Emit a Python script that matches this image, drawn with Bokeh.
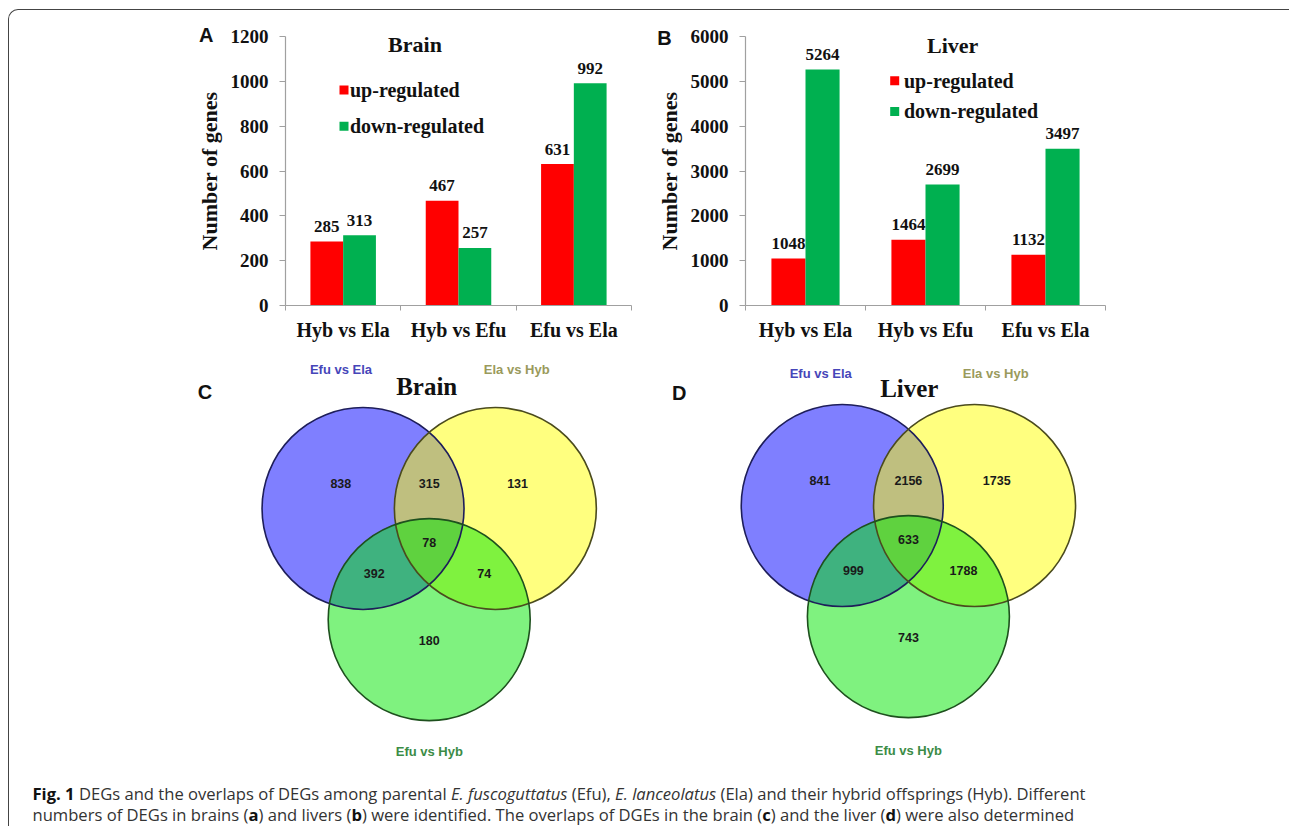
from bokeh.plotting import figure
from bokeh.models import (ColumnDataSource, Range1d, FixedTicker, LabelSet, Label, Spacer, Div)
from bokeh.layouts import row, column
from bokeh.transform import dodge
from bokeh.core.properties import value
from bokeh.embed import file_html
from bokeh.resources import INLINE

# ---------------- data ----------------
categories = ["Hyb vs Ela", "Hyb vs Efu", "Efu vs Ela"]
series_names = ["up-regulated", "down-regulated"]
brain_up = [285, 467, 631]
brain_down = [313, 257, 992]
liver_up = [1048, 1464, 1132]
liver_down = [5264, 2699, 3497]
brain_ticks = [0, 200, 400, 600, 800, 1000, 1200]
liver_ticks = [0, 1000, 2000, 3000, 4000, 5000, 6000]

venn_sets = ["Efu vs Ela", "Ela vs Hyb", "Efu vs Hyb"]
# regions: only1, 1&2, only2, 1&2&3, 1&3, 2&3, only3
brain_venn = [838, 315, 131, 78, 392, 74, 180]
liver_venn = [841, 2156, 1735, 633, 999, 1788, 743]

# ---------------- style / layout ----------------
RED = "#FF0000"
GREEN = "#00B050"
AXIS = "#a0a0a0"
SERIF = "Liberation Serif"
SANS = "Liberation Sans"
ORIGIN_X = 9.5     # page position of the layout content (margin + border)
ORIGIN_Y = 10.5
SPACER_W = 150
TOP_H = 343        # height of the bar-chart row
VENN_H = 417       # height of the venn row
ROW1_TOP = ORIGIN_Y
ROW2_TOP = ORIGIN_Y + TOP_H
FIG_A_LEFT = ORIGIN_X + SPACER_W
FIG_A_W = 490
FIG_B_LEFT = FIG_A_LEFT + FIG_A_W
FIG_B_W = 500


def bar_panel(up, down, ticks, title, fig_left, fig_width, frame, title_pos, legend_pos):
    fl, fr, ft, fb = frame
    mbl = int(round(fl - fig_left))
    mbr = int(round(fig_left + fig_width - fr))
    mbt = int(round(ft - ROW1_TOP))
    mbb = int(round(ROW1_TOP + TOP_H - fb))
    fl, fr = fig_left + mbl, fig_left + fig_width - mbr
    ft, fb = ROW1_TOP + mbt, ROW1_TOP + TOP_H - mbb
    ymax = ticks[-1]
    n = len(categories)
    p = figure(x_range=Range1d(0, n), y_range=Range1d(0, ymax),
               width=fig_width, height=TOP_H,
               min_border_left=mbl, min_border_right=mbr,
               min_border_top=mbt, min_border_bottom=mbb,
               output_backend="svg", toolbar_location=None)
    p.grid.visible = False
    p.outline_line_color = None
    p.background_fill_color = None
    p.border_fill_color = None

    fw, fh = fr - fl, fb - ft

    def dx(px):
        return (px - fl) / fw * n

    def dy(py):
        return (fb - py) / fh * ymax

    centers = [i + 0.5 for i in range(n)]
    src = ColumnDataSource(dict(xc=centers, up=up, down=down,
                                up_t=[str(v) for v in up], down_t=[str(v) for v in down]))
    bw = 0.284
    p.vbar(x=dodge("xc", -bw / 2), top="up", width=bw, source=src,
           fill_color=RED, line_color=None)
    p.vbar(x=dodge("xc", bw / 2), top="down", width=bw, source=src,
           fill_color=GREEN, line_color=None)
    for off, col in ((-bw / 2, "up"), (bw / 2, "down")):
        p.add_layout(LabelSet(x=dodge("xc", off), y=col, text=col + "_t",
                              source=src, y_offset=15, text_align="center",
                              text_baseline="middle", text_font=value(SERIF),
                              text_font_style="bold", text_font_size="17px",
                              text_color="#111111"))

    # y axis
    ya = p.yaxis[0]
    ya.ticker = FixedTicker(ticks=ticks)
    ya.axis_line_color = AXIS
    ya.axis_line_width = 1.2
    ya.major_tick_line_color = AXIS
    ya.major_tick_in = 0
    ya.major_tick_out = 6
    ya.minor_tick_line_color = None
    ya.major_label_standoff = 11
    ya.major_label_text_font = SERIF
    ya.major_label_text_font_style = "bold"
    ya.major_label_text_font_size = "19px"
    ya.major_label_text_color = "#111111"
    ya.axis_label = "Number of genes"
    ya.axis_label_text_font = SERIF
    ya.axis_label_text_font_style = "bold"
    ya.axis_label_text_font_size = "22px"
    ya.axis_label_text_color = "#111111"
    ya.axis_label_standoff = 6

    # x axis: category names at centres, tick marks between categories
    xa = p.xaxis[0]
    xa.ticker = FixedTicker(ticks=centers, minor_ticks=list(range(n + 1)))
    xa.major_label_overrides = {c: name for c, name in zip(centers, categories)}
    xa.axis_line_color = AXIS
    xa.axis_line_width = 1.2
    xa.major_tick_line_color = None
    xa.major_tick_out = 5
    xa.major_tick_in = 0
    xa.minor_tick_line_color = AXIS
    xa.minor_tick_out = 5
    xa.minor_tick_in = 0
    xa.major_label_standoff = 8
    xa.major_label_text_font = SERIF
    xa.major_label_text_font_style = "bold"
    xa.major_label_text_font_size = "20px"
    xa.major_label_text_color = "#111111"

    # legend (square keys + labels)
    lx, ly1, ly2, tx = legend_pos
    p.scatter(x=[dx(lx), dx(lx)], y=[dy(ly1), dy(ly2)], marker="square", size=9,
              fill_color=[RED, GREEN], line_color=None)
    p.text(x=[dx(tx), dx(tx)], y=[dy(ly1), dy(ly2)], text=series_names,
           text_font=value(SERIF), text_font_style="bold", text_font_size="20px",
           text_baseline="middle", text_align="left", text_color="#111111")

    # panel title
    p.add_layout(Label(x=dx(title_pos[0]), y=dy(title_pos[1]), text=title,
                       text_font=SERIF, text_font_style="bold", text_font_size="22px",
                       text_align="center", text_baseline="middle", text_color="#111111"))
    return p


def letter_overlay(letter, fig_left, fig_width, pos):
    # transparent box laid over a bar chart, carrying the panel letter
    left = pos[0] - fig_left - 10
    top = pos[1] - ROW1_TOP - 11
    html = ('<div style="position:relative; left:%.1fpx; top:%.1fpx; width:20px; '
            'text-align:center; font-family:\'Liberation Sans\'; font-weight:bold; '
            'font-size:20px; line-height:22px; color:#111111;">%s</div>' % (left, top, letter))
    return Div(text=html, width=fig_width, height=TOP_H, margin=(0, 0, 0, -fig_width))


# venn geometry in circle-radius units
PX = 101.0
CIRCLE_X = [-0.655, 0.655, 0.0]
CIRCLE_Y = [0.0, 0.0, -1.10]
CIRCLE_FILL = ["#0000ff", "#ffff00", "#00e600"]
CIRCLE_LINE = ["#1e1e5a", "#4b4b1e", "#1e501e"]
REGION_X = [-0.875, 0.0, 0.875, 0.0, -0.545, 0.545, 0.0]
REGION_Y = [0.25, 0.25, 0.25, -0.34, -0.64, -0.64, -1.31]
SET_COLORS = ["#4646b9", "#9a9a5c", "#3c8c46"]


def venn_panel(counts, title, letter, fig_left, fig_width, center,
               title_pos, letter_pos, set_pos):
    cx, cy = center
    top = ROW2_TOP
    x0 = (fig_left - cx) / PX
    x1 = (fig_left + fig_width - cx) / PX
    y1 = (cy - top) / PX
    y0 = (cy - top - VENN_H) / PX
    p = figure(width=fig_width, height=VENN_H, x_range=Range1d(x0, x1), y_range=Range1d(y0, y1),
               min_border=0, x_axis_location=None, y_axis_location=None,
               output_backend="svg", toolbar_location=None)
    p.grid.visible = False
    p.outline_line_color = None
    p.background_fill_color = None
    p.border_fill_color = None

    def ux(px):
        return (px - cx) / PX

    def uy(py):
        return (cy - py) / PX

    csrc = ColumnDataSource(dict(x=CIRCLE_X, y=CIRCLE_Y, fill=CIRCLE_FILL, line=CIRCLE_LINE))
    p.ellipse(x="x", y="y", width=2, height=2, source=csrc, fill_color="fill",
              fill_alpha=0.5, line_color=None)
    p.ellipse(x="x", y="y", width=2, height=2, source=csrc, fill_color=None,
              line_color="line", line_width=1.6)

    rsrc = ColumnDataSource(dict(x=REGION_X, y=REGION_Y, t=[str(c) for c in counts]))
    p.text(x="x", y="y", text="t", source=rsrc, text_font=value(SANS), text_font_style="bold",
           text_font_size="12.5px", text_align="center", text_baseline="middle",
           text_color="#1a1a1a")

    ssrc = ColumnDataSource(dict(x=[ux(a) for a, b in set_pos], y=[uy(b) for a, b in set_pos],
                                 t=venn_sets, c=SET_COLORS))
    p.text(x="x", y="y", text="t", source=ssrc, text_font=value(SANS), text_font_style="bold",
           text_font_size="13px", text_align="center", text_baseline="middle", text_color="c")

    p.text(x=[ux(title_pos[0])], y=[uy(title_pos[1])], text=[title], text_font=value(SERIF),
           text_font_style="bold", text_font_size="25px", text_align="center",
           text_baseline="middle", text_color="#111111")
    p.text(x=[ux(letter_pos[0])], y=[uy(letter_pos[1])], text=[letter], text_font=value(SANS),
           text_font_style="bold", text_font_size="20px", text_align="center",
           text_baseline="middle", text_color="#111111")
    return p


pA = bar_panel(brain_up, brain_down, brain_ticks, "Brain", FIG_A_LEFT, FIG_A_W,
               (286, 631, 34, 306), (415, 42.7), (344, 88.3, 125, 350))
pB = bar_panel(liver_up, liver_down, liver_ticks, "Liver", FIG_B_LEFT, FIG_B_W,
               (746, 1105, 36, 308), (952.7, 46), (894.7, 81, 112, 904))
letA = letter_overlay("A", FIG_A_LEFT, FIG_A_W, (206.7, 35))
letB = letter_overlay("B", FIG_B_LEFT, FIG_B_W, (665, 38))

pC = venn_panel(brain_venn, "Brain", "C", FIG_A_LEFT, FIG_A_W, (429.2, 508.5),
                (426.7, 386.7), (205, 391.7),
                [(341, 369.3), (516.7, 369.3), (429.3, 751.7)])
pD = venn_panel(liver_venn, "Liver", "D", FIG_B_LEFT, FIG_B_W, (908.4, 505.5),
                (909.3, 388.3), (679.3, 392.7),
                [(820.7, 373.3), (995.7, 373.3), (908.3, 750)])

caption_html = (
    '<div style="font-family:\'Open Sans\'; font-size:16.6px; line-height:21px; color:#333333; '
    'padding:12.5px 0 0 23.5px; white-space:nowrap;">'
    '<b style="color:#111111">Fig. 1</b> DEGs and the overlaps of DEGs among parental '
    '<i>E. fuscoguttatus</i> (Efu), '
    '<i>E. lanceolatus</i> (Ela) and their hybrid offsprings (Hyb). Different<br>'
    'numbers of DEGs in brains (<b style="color:#111111">a</b>) and livers '
    '(<b style="color:#111111">b</b>) were identified. '
    'The overlaps of DGEs in the brain (<b style="color:#111111">c</b>) and the liver '
    '(<b style="color:#111111">d</b>) were also determined'
    '</div>'
)
caption = Div(text=caption_html, width=1280, height=56, margin=0)

layout = column(
    row(Spacer(width=SPACER_W, height=TOP_H), pA, letA, pB, letB),
    row(Spacer(width=SPACER_W, height=VENN_H), pC, pD),
    caption,
    margin=(9, 0, 0, 8),
    styles={"border-top": "1.5px solid #444444", "border-left": "1.5px solid #444444",
            "border-top-left-radius": "10px"},
)

open("out.html", "w").write(file_html(layout, INLINE))
